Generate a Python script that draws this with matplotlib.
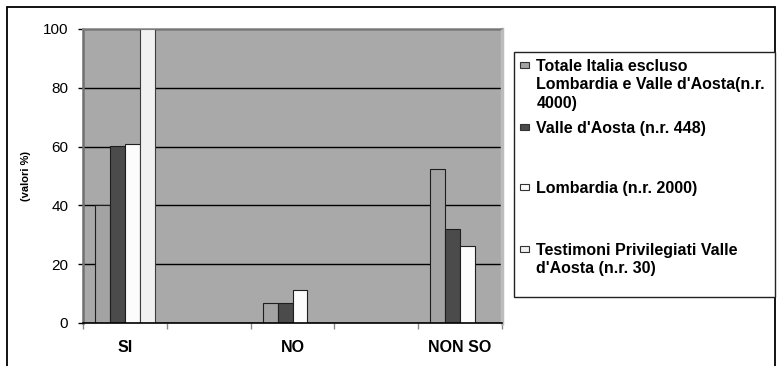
import matplotlib
matplotlib.use("Agg")
import matplotlib.pyplot as plt
from matplotlib.patches import Rectangle
import numpy as np

# ---- data ----
categories = ["SI", "", "NO", "", "NON SO"]
series_labels = [
    "Totale Italia escluso\nLombardia e Valle d'Aosta(n.r.\n4000)",
    "Valle d'Aosta (n.r. 448)",
    "Lombardia (n.r. 2000)",
    "Testimoni Privilegiati Valle\nd'Aosta (n.r. 30)",
]
totale = [40.0, None, 6.7, None, 52.3]
valle = [60.3, None, 6.7, None, 32.1]
lombardia = [60.8, None, 11.2, None, 26.2]
testimoni = [100.0, None, 0.0, None, 0.0]
series_values = [totale, valle, lombardia, testimoni]
y_ticks = [0, 20, 40, 60, 80, 100]
y_label = "(valori %)"

# ---- style ----
fills = ["#a3a3a3", "#4b4b4b", "#fcfcfc", "#f1f1f1"]
edges = ["#1e1e1e", "#1e1e1e", "#1e1e1e", "#3c3c3c"]
W, H = 777, 366
plt.rcParams['font.family'] = ['Liberation Sans', 'DejaVu Sans']

fig = plt.figure(figsize=(W / 100, H / 100), dpi=100)

def fx(x):
    return x / W

def fy(y):
    return 1 - y / H

# axes placement (pixels from top-left)
L, R, T, B = 83, 502, 29, 323
ax = fig.add_axes([fx(L), fy(B), (R - L) / W, (B - T) / H])
ax.set_facecolor("#a9a9a9")
ax.set_axisbelow(True)

x = np.arange(len(categories))
bw = 0.177
for k, (vals, fc, ec) in enumerate(zip(series_values, fills, edges)):
    xs = [xi + (k - 1.5) * bw for xi, v in zip(x, vals) if v is not None]
    vs = [v for v in vals if v is not None]
    ax.bar(xs, vs, width=bw, color=fc, edgecolor=ec, linewidth=0.8, zorder=2)

ax.set_xlim(-0.5, len(categories) - 0.5)
ax.set_ylim(0, 100)
ax.set_yticks(y_ticks)
ax.set_yticklabels([str(t) for t in y_ticks], fontsize=11)
ax.yaxis.grid(True, color="black", linewidth=1.0)
ax.tick_params(axis="y", length=3.6, width=1, color="black", pad=7)

# category boundaries as major ticks, labels on minor ticks
ax.set_xticks(np.arange(-0.5, len(categories), 1.0))
ax.set_xticklabels([])
ax.tick_params(axis="x", which="major", length=4, width=1, color="#8a8a8a")
ax.set_xticks(x, minor=True)
ax.set_xticklabels(categories, minor=True, fontsize=11.5, fontweight="bold")
ax.tick_params(axis="x", which="minor", length=0, pad=12)

ax.spines["bottom"].set_color("black")
ax.spines["bottom"].set_linewidth(1.2)
ax.spines["left"].set_color("#707070")
ax.spines["left"].set_linewidth(1.8)
ax.spines["top"].set_color("#8c8c8c")
ax.spines["top"].set_linewidth(1.2)
ax.spines["right"].set_color("#bcbcbc")
ax.spines["right"].set_linewidth(2.5)

fig.text(fx(26.5), fy(176.5), y_label, rotation=90, ha="center", va="center",
         fontsize=8, fontweight="bold")

# figure border
fig.patches.append(Rectangle((fx(7), fy(372)), fx(775) - fx(7), fy(7) - fy(372),
                             transform=fig.transFigure, fill=False,
                             edgecolor="black", linewidth=1.3))

# legend box
lg_l, lg_r, lg_t, lg_b = 514, 775, 52, 297
fig.patches.append(Rectangle((fx(lg_l), fy(lg_b)), fx(lg_r) - fx(lg_l), fy(lg_t) - fy(lg_b),
                             transform=fig.transFigure, facecolor="white",
                             edgecolor="#222222", linewidth=1.0))
entry_centers = [65, 127, 187, 249]
line_step = 18.5
for lab, fc, cy in zip(series_labels, fills, entry_centers):
    mw, mh = 9, 6
    fig.patches.append(Rectangle((fx(520), fy(cy + mh / 2)), mw / W, mh / H,
                                 transform=fig.transFigure, facecolor=fc,
                                 edgecolor="#333333", linewidth=0.8))
    for i, line in enumerate(lab.split("\n")):
        fig.text(fx(536.5), fy(cy + i * line_step), line, ha="left",
                 va="center_baseline", fontsize=11.5, fontweight="bold")

fig.savefig("out.png", dpi=100)
